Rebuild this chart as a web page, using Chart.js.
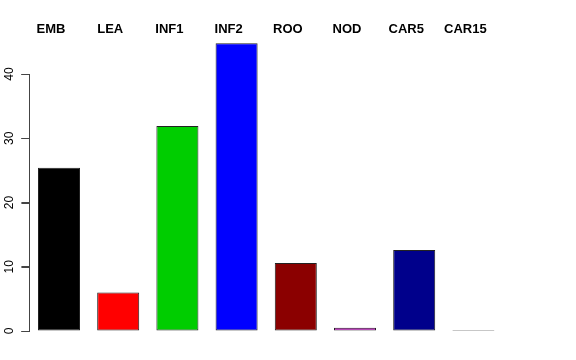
<!DOCTYPE html>
<html><head><meta charset="utf-8">
<script src="https://cdn.jsdelivr.net/npm/chart.js@4/dist/chart.umd.min.js"></script>
<style>html,body{margin:0;padding:0;background:#fff}#wrap{width:576px;height:360px}</style>
</head><body><div id="wrap"><canvas id="c" width="576" height="360"></canvas></div>
<script>
const categories = ["EMB","LEA","INF1","INF2","ROO","NOD","CAR5","CAR15"];
const values = [25.4, 6.0, 31.9, 44.8, 10.6, 0.5, 12.6, 0.15];
const barColors = ["#000000","#FF0000","#00CD00","#0000FF","#8B0000","#E000E0","#00008B","#333333"];
const yTicks = [0, 10, 20, 30, 40];

const extras = {
  id: 'extras',
  afterDraw(chart) {
    const ctx = chart.ctx, xs = chart.scales.x, ys = chart.scales.y;
    ctx.save();
    ctx.strokeStyle = '#444';
    ctx.lineWidth = 1;
    yTicks.forEach(v => {
      const py = Math.round(ys.getPixelForValue(v)) + 0.5;
      ctx.beginPath();
      ctx.moveTo(ys.right - 8, py);
      ctx.lineTo(ys.right, py);
      ctx.stroke();
    });
    ctx.font = 'bold 13px "Liberation Sans", Arial, sans-serif';
    ctx.fillStyle = '#000';
    ctx.textAlign = 'center';
    ctx.textBaseline = 'middle';
    categories.forEach((c, i) => {
      ctx.fillText(c, xs.getPixelForValue(i) - 8, 29);
    });
    ctx.restore();
  }
};

new Chart(document.getElementById('c'), {
  type: 'bar',
  data: {
    labels: categories,
    datasets: [{
      data: values,
      backgroundColor: barColors,
      borderColor: '#222',
      borderWidth: 1,
      borderSkipped: false,
      barPercentage: 0.71,
      categoryPercentage: 1.0,
      clip: false
    }]
  },
  options: {
    responsive: false,
    animation: false,
    events: [],
    layout: { padding: { top: 74, bottom: 29, right: 73, left: 0 } },
    plugins: { legend: { display: false }, tooltip: { enabled: false } },
    scales: {
      x: { display: false, offset: true },
      y: {
        min: 0, max: 40,
        afterBuildTicks(scale) { scale.ticks = yTicks.map(v => ({ value: v })); },
        afterFit(scale) { scale.width = 29.4; },
        border: { display: true, color: '#444', width: 1 },
        grid: { display: true, drawOnChartArea: false, drawTicks: true, tickLength: 8, tickWidth: 1, color: '#444', tickColor: '#444' },
        ticks: {
          minRotation: 90, maxRotation: 90,
          crossAlign: 'center',
          padding: 5,
          color: '#000',
          font: { family: '"Liberation Sans", Arial, sans-serif', size: 12 }
        }
      }
    }
  },
  plugins: [extras]
});
</script></body></html>
